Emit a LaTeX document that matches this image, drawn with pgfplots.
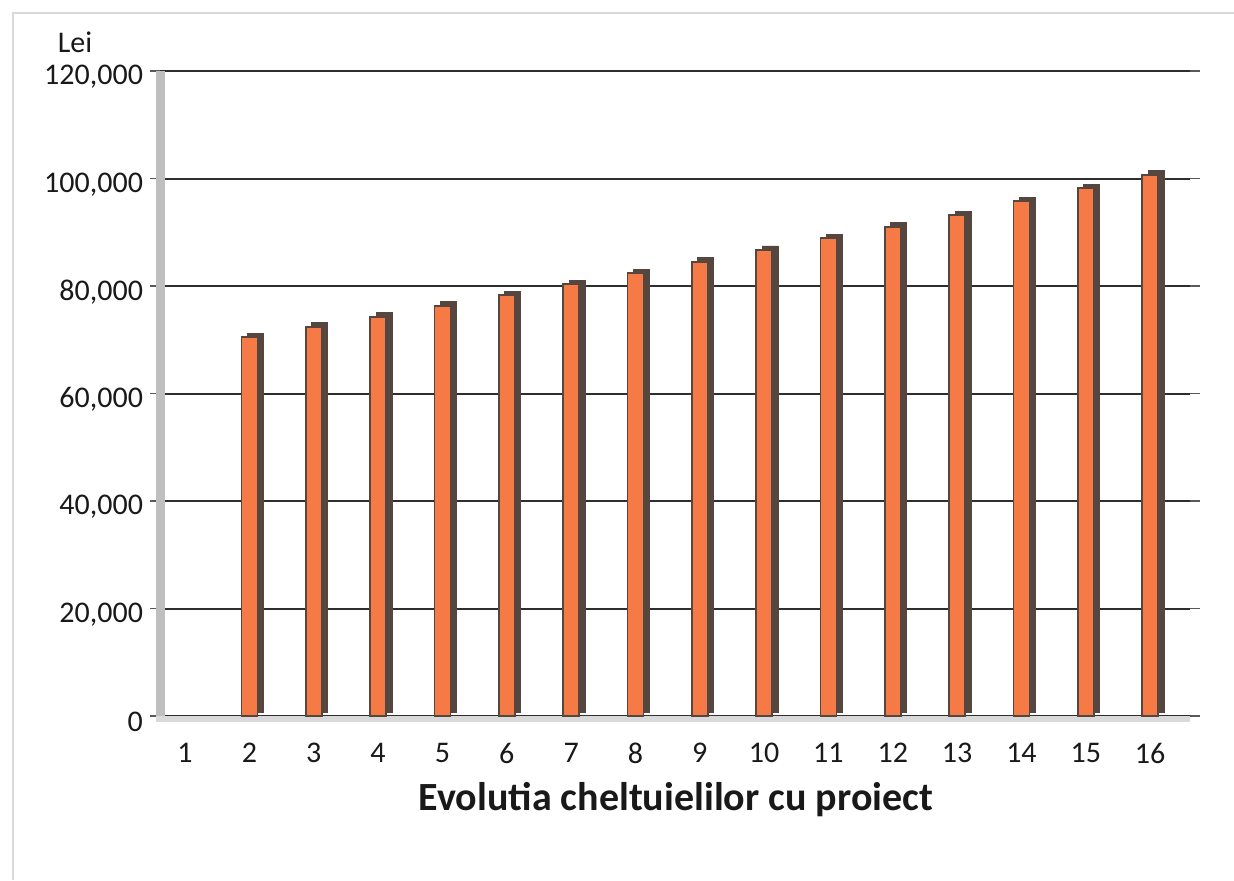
\documentclass[border=0pt]{standalone}
\usepackage{pgfplots}
\pgfplotsset{compat=1.18}
\usepackage{fontspec}
\setmainfont{Carlito}
\definecolor{barorange}{HTML}{F57A45}
\definecolor{bardark}{HTML}{55463F}
\definecolor{gridc}{HTML}{2E2E2E}
\begin{document}
\begin{tikzpicture}[x=1pt,y=1pt]
\path[use as bounding box] (0,0) rectangle (617,440);
\draw[gray!30, line width=0.8pt] (6.5,0) -- (6.5,433.5) -- (617,433.5);
\begin{axis}[
  at={(80pt,82pt)}, anchor=south west,
  scale only axis, width=515pt, height=322.5pt,
  xmin=0.61, xmax=16.62, ymin=0, ymax=120000,
  xtick={1,...,16}, ytick={0,20000,...,120000},
  axis line style={draw=none},
  ymajorgrids, grid style={gridc, line width=1pt},
  xtick style={draw=none},
  ytick style={gray!70!black, line width=0.8pt},
  tick align=outside, major tick length=5pt,
  /pgf/number format/fixed,
  /pgf/number format/1000 sep={,},
  /pgf/number format/assume math mode=true,
  scaled y ticks=false,
  tick label style={font=\fontsize{15}{18}\selectfont, text=black!90},
  xticklabel style={yshift=-5pt},
  yticklabel style={yshift=-3pt},
  ybar, bar width=8pt,
  clip=false,
]
\fill[gray!50] ([xshift=-2pt]rel axis cs:0,0) rectangle ([xshift=2.5pt]rel axis cs:0,1);
\fill[gray!30] ([xshift=-2pt]rel axis cs:0,0) rectangle ([yshift=-3pt]rel axis cs:1,0);
\addplot[fill=bardark, draw=bardark, bar shift=3pt, yshift=2pt] coordinates {
(2,70500) (3,72400) (4,74300) (5,76300) (6,78300) (7,80300) (8,82400) (9,84500)
(10,86700) (11,88900) (12,91000) (13,93200) (14,95800) (15,98200) (16,100700)};
\addplot[fill=barorange, draw=bardark, line width=0.9pt, bar shift=0pt] coordinates {
(2,70500) (3,72400) (4,74300) (5,76300) (6,78300) (7,80300) (8,82400) (9,84500)
(10,86700) (11,88900) (12,91000) (13,93200) (14,95800) (15,98200) (16,100700)};
\end{axis}
\node[text=black!90] at (37.5,419) {\fontsize{15}{18}\selectfont Lei};
\node[text=black!90] at (338,40) {\fontsize{20}{24}\selectfont\bfseries Evolutia cheltuielilor cu proiect};
\end{tikzpicture}
\end{document}
